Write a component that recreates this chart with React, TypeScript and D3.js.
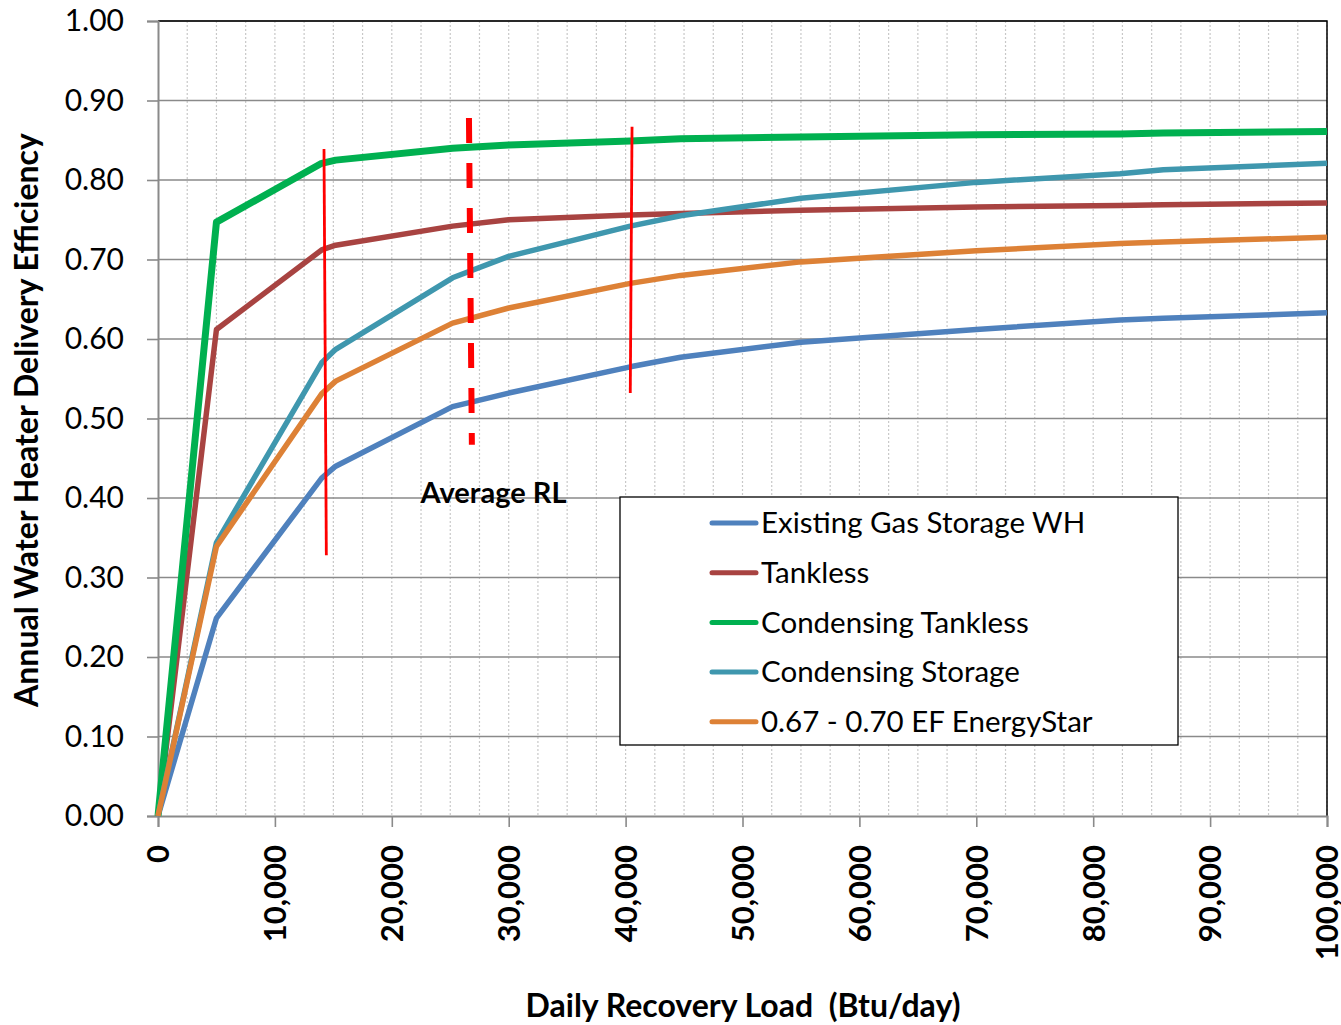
import { useEffect, useRef } from 'react'
import * as d3 from 'd3'

// Daily recovery load sample points (Btu/day)
const loads = [0, 5000, 14000, 15200, 25200, 30000, 40400, 44700, 55000, 70000, 82300, 86000, 100000]

// Annual delivery efficiency per water heater type
const existingGas = [0, 0.249, 0.425, 0.44, 0.515, 0.532, 0.565, 0.577, 0.596, 0.612, 0.624, 0.626, 0.633]
const tankless = [0, 0.612, 0.712, 0.718, 0.742, 0.75, 0.756, 0.758, 0.762, 0.766, 0.768, 0.769, 0.771]
const condTankless = [0, 0.747, 0.821, 0.825, 0.84, 0.844, 0.849, 0.852, 0.854, 0.857, 0.858, 0.859, 0.861]
const condStorage = [0, 0.344, 0.57, 0.587, 0.677, 0.704, 0.742, 0.755, 0.777, 0.797, 0.808, 0.813, 0.821]
const energyStar = [0, 0.339, 0.531, 0.547, 0.62, 0.639, 0.67, 0.68, 0.697, 0.711, 0.72, 0.722, 0.728]

const seriesNames = [
  'Existing Gas Storage WH',
  'Tankless',
  'Condensing Tankless',
  'Condensing Storage',
  '0.67 - 0.70 EF EnergyStar',
]
const seriesValues = [existingGas, tankless, condTankless, condStorage, energyStar]
const seriesColors = ['#4f81bd', '#a84341', '#00b050', '#3f97ae', '#dd8136']

const yTicks = [0, 0.1, 0.2, 0.3, 0.4, 0.5, 0.6, 0.7, 0.8, 0.9, 1.0]
const xTicks = [0, 10000, 20000, 30000, 40000, 50000, 60000, 70000, 80000, 90000, 100000]

// Red marker lines: [x top, x bottom, y top, y bottom]
const markerLow = [14200, 14400, 0.839, 0.328]
const markerAvg = [26600, 26850, 0.878, 0.467]
const markerHigh = [40550, 40400, 0.867, 0.532]

const FONT = 'Lato, "Open Sans", sans-serif'

export default function App() {
  const svgRef = useRef<SVGSVGElement>(null)

  useEffect(() => {
    if (!svgRef.current) return
    const svg = d3.select(svgRef.current)
    svg.selectAll('*').remove()

    const width = 1341
    const height = 1025
    const margin = { top: 21, right: 14, bottom: 209, left: 158 }
    const innerWidth = width - margin.left - margin.right
    const innerHeight = height - margin.top - margin.bottom

    const g = svg.append('g').attr('transform', `translate(${margin.left},${margin.top})`)

    const xScale = d3.scaleLinear().domain([0, 100000]).range([0, innerWidth])
    const yScale = d3.scaleLinear().domain([0, 1]).range([innerHeight, 0])

    // Minor vertical gridlines (dotted)
    const minor = d3.range(2500, 100001, 2500)
    g.append('g')
      .selectAll('line')
      .data(minor)
      .join('line')
      .attr('x1', (d) => xScale(d))
      .attr('x2', (d) => xScale(d))
      .attr('y1', 0)
      .attr('y2', innerHeight)
      .attr('stroke', '#c8c8c8')
      .attr('stroke-width', 1.2)
      .attr('stroke-dasharray', '2,2')

    // Horizontal gridlines
    g.append('g')
      .selectAll('line')
      .data(yTicks.slice(1))
      .join('line')
      .attr('x1', 0)
      .attr('x2', innerWidth)
      .attr('y1', (d) => yScale(d))
      .attr('y2', (d) => yScale(d))
      .attr('stroke', '#8a8a8a')
      .attr('stroke-width', 1.6)

    // Top & right border
    g.append('path')
      .attr('d', `M0,0H${innerWidth}V${innerHeight}`)
      .attr('fill', 'none')
      .attr('stroke', '#000')
      .attr('stroke-width', 1.5)

    // Y axis
    const yAxis = g
      .append('g')
      .call(
        d3
          .axisLeft(yScale)
          .tickValues(yTicks)
          .tickSize(11)
          .tickPadding(23)
          .tickFormat((d) => (d as number).toFixed(2))
      )
    yAxis.select('.domain').attr('stroke', '#8a8a8a').attr('stroke-width', 2)
    yAxis.selectAll('line').attr('stroke', '#8a8a8a').attr('stroke-width', 1.6)
    yAxis
      .selectAll('text')
      .attr('font-family', FONT)
      .attr('font-size', '30px')
      .attr('fill', '#000')

    // X axis
    const xAxis = g
      .append('g')
      .attr('transform', `translate(0,${innerHeight})`)
      .call(d3.axisBottom(xScale).tickValues(xTicks).tickSize(11).tickFormat(d3.format(',')))
    xAxis.select('.domain').attr('stroke', '#8a8a8a').attr('stroke-width', 2)
    xAxis.selectAll('line').attr('stroke', '#8a8a8a').attr('stroke-width', 1.6)
    xAxis
      .selectAll('text')
      .attr('font-family', FONT)
      .attr('font-size', '31px')
      .attr('font-weight', 'bold')
      .attr('fill', '#000')
      .attr('text-anchor', 'end')
      .attr('dy', '0.35em')
      .attr('transform', 'translate(0,29) rotate(-90)')
      .attr('x', 0)
      .attr('y', 0)

    // Series lines
    const line = d3
      .line<number>()
      .x((_, i) => xScale(loads[i]))
      .y((d) => yScale(d))

    seriesValues.forEach((vals, i) => {
      g.append('path')
        .datum(vals)
        .attr('fill', 'none')
        .attr('stroke', seriesColors[i])
        .attr('stroke-width', i === 2 ? 7 : 5.5)
        .attr('stroke-linejoin', 'round')
        .attr('d', line)
    })

    // Red recovery-load markers
    const marker = (m: number[], w: number, dash?: string) => {
      const l = g
        .append('line')
        .attr('x1', xScale(m[0]))
        .attr('x2', xScale(m[1]))
        .attr('y1', yScale(m[2]))
        .attr('y2', yScale(m[3]))
        .attr('stroke', '#ff0000')
        .attr('stroke-width', w)
      if (dash) l.attr('stroke-dasharray', dash)
    }
    marker(markerLow, 2.8)
    marker(markerHigh, 2.8)
    marker(markerAvg, 6, '25,20')

    g.append('text')
      .attr('x', xScale(28700))
      .attr('y', yScale(0.4) + 5)
      .attr('text-anchor', 'middle')
      .attr('font-family', FONT)
      .attr('font-size', '29px')
      .attr('font-weight', 'bold')
      .attr('fill', '#000')
      .text('Average RL')

    // Legend
    const lg = svg.append('g').attr('transform', 'translate(620,497)')
    lg.append('rect')
      .attr('width', 558)
      .attr('height', 248)
      .attr('fill', '#fff')
      .attr('stroke', '#000')
      .attr('stroke-width', 1.3)
    seriesNames.forEach((name, i) => {
      const y = 26 + i * 49.7
      lg.append('line')
        .attr('x1', 92)
        .attr('x2', 136)
        .attr('y1', y)
        .attr('y2', y)
        .attr('stroke', seriesColors[i])
        .attr('stroke-width', 5)
        .attr('stroke-linecap', 'round')
      lg.append('text')
        .attr('x', 141)
        .attr('y', y)
        .attr('dy', '0.35em')
        .attr('font-family', FONT)
        .attr('font-size', '29.5px')
        .attr('fill', '#000')
        .text(name)
    })

    // Axis titles
    svg
      .append('text')
      .attr('transform', 'translate(38,420) rotate(-90)')
      .attr('text-anchor', 'middle')
      .attr('font-family', FONT)
      .attr('font-size', '32px')
      .attr('font-weight', 'bold')
      .attr('fill', '#000')
      .text('Annual Water Heater Delivery Efficiency')

    svg
      .append('text')
      .attr('x', 743)
      .attr('y', 1017)
      .attr('text-anchor', 'middle')
      .attr('font-family', FONT)
      .attr('font-size', '32px')
      .attr('font-weight', 'bold')
      .attr('fill', '#000')
      .attr('xml:space', 'preserve')
      .text('Daily Recovery Load  (Btu/day)')
  }, [])

  return (
    <div style={{ position: 'absolute', left: 0, top: 0, width: 1341, height: 1025, background: '#fff' }}>
      <svg ref={svgRef} width={1341} height={1025} />
    </div>
  )
}
